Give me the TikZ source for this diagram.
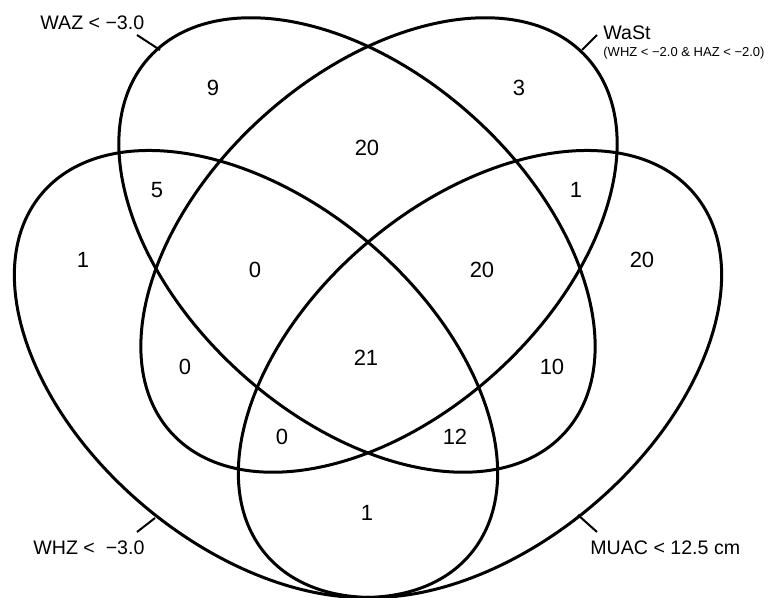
\documentclass[tikz,border=0pt]{standalone}
\usepackage{fontspec}
\setmainfont{Liberation Sans}
\usetikzlibrary{positioning}
\tikzset{
  vennset/.style={draw, line width=1.5pt},
  venncount/.style={font=\fontsize{11}{13}\selectfont, inner sep=0pt},
  vennlabel/.style={font=\fontsize{9.8}{12}\selectfont, inner sep=0pt, anchor=west},
  vennnote/.style={font=\fontsize{6.5}{8}\selectfont, inner sep=0pt, anchor=west},
  venntick/.style={line width=1pt},
}

\begin{document}
\begin{tikzpicture}[x=0.5pt, y=-0.5pt]
  \useasboundingbox (0,0) rectangle (768,598);
  % the four sets
  \draw[vennset, rotate around={-42:(357,245)}] (357,245) ellipse [x radius=280, y radius=173];
  \draw[vennset, rotate around={42:(379,245)}] (379,245) ellipse [x radius=280, y radius=173];
  \draw[vennset, rotate around={-40:(256,374)}] (256,374) ellipse [x radius=280, y radius=173];
  \draw[vennset, rotate around={40:(480,374)}] (480,374) ellipse [x radius=280, y radius=173];

  % counts
  \node[venncount] (wazonly) at (213,88) {9};
  \node[venncount] (wastonly) at (519,88) {3};
  \node[venncount] (wazwast) at (367,148) {20};
  \node[venncount] (wazwhz) at (157,190) {5};
  \node[venncount] (wastmuac) at (576,190) {1};
  \node[venncount] (whzonly) at (83,260) {1};
  \node[venncount] (wazwastwhz) at (255,270) {0};
  \node[venncount] (wazwastmuac) at (482,270) {20};
  \node[venncount] (muaconly) at (642,260) {20};
  \node[venncount] (allfour) at (366,358) {21};
  \node[venncount] (wastwhz) at (185,367) {0};
  \node[venncount] (wazmuac) at (552,367) {10};
  \node[venncount] (wastwhzmuac) at (282,437) {0};
  \node[venncount] (wazwhzmuac) at (455,437) {12};
  \node[venncount] (whzmuac) at (367,513) {1};

  % set names
  \node[vennlabel] (wazname) at (40,23) {WAZ < −3.0};
  \node[vennlabel] (wastname) at (603,33) {WaSt};
  \node[vennnote] (wastnote) at (603,53) {(WHZ < −2.0 \& HAZ < −2.0)};
  \node[vennlabel] (whzname) at (33,548) {WHZ <\ \ −3.0};
  \node[vennlabel] (muacname) at (590,548) {MUAC < 12.5 cm};

  % ticks from the names to the sets
  \coordinate (wazfoot) at (137,35);
  \coordinate (wazmark) at (160,50);
  \coordinate (wastfoot) at (597,35);
  \coordinate (wastmark) at (582,50);
  \coordinate (whzfoot) at (137,532);
  \coordinate (whzmark) at (155,518);
  \coordinate (muacfoot) at (597,532);
  \coordinate (muacmark) at (578,515);
  \draw[venntick] (wazfoot) -- (wazmark);
  \draw[venntick] (wastfoot) -- (wastmark);
  \draw[venntick] (whzfoot) -- (whzmark);
  \draw[venntick] (muacfoot) -- (muacmark);
\end{tikzpicture}
\end{document}
